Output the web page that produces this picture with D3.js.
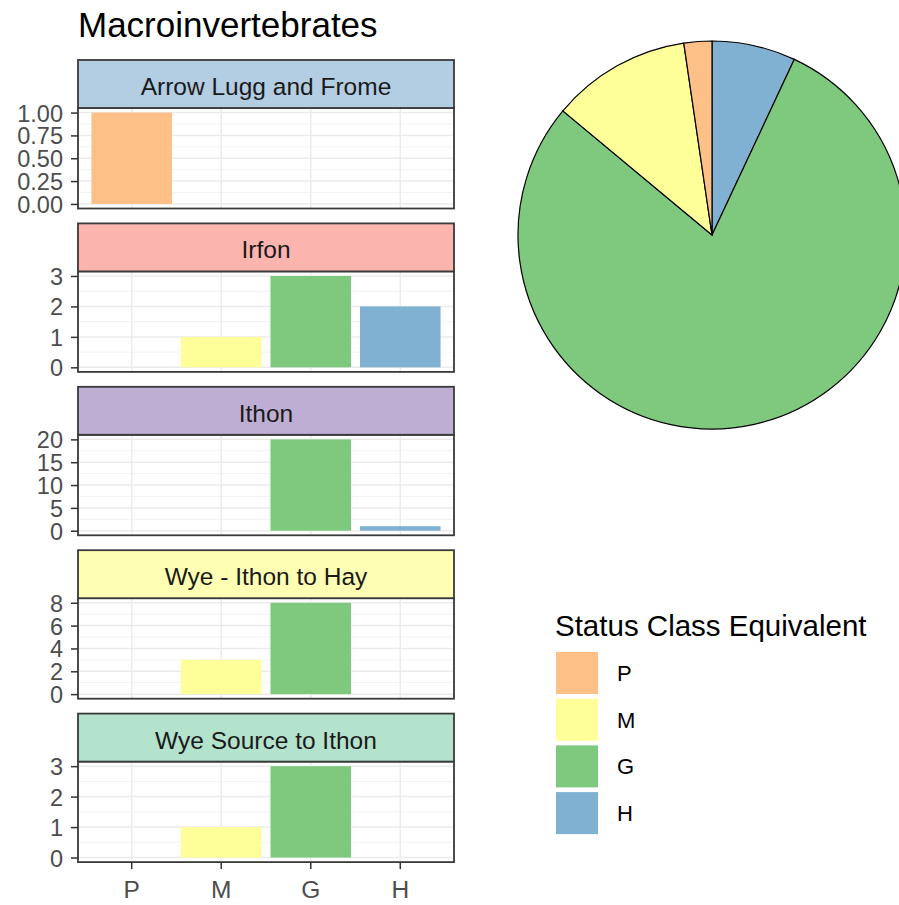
<!DOCTYPE html>
<html>
<head>
<script src="https://d3js.org/d3.v7.min.js"></script>
<style>
  body { margin: 0; background: #fff; }
  text { font-family: "Liberation Sans", Arial, sans-serif; }
</style>
</head>
<body>
<svg id="chart" width="899" height="905"></svg>
<script>
// status classes and their colours
var classes = ["P", "M", "G", "H"];
var classColors = ["#FDC086", "#FFFF99", "#7FC97F", "#80B1D3"];

// sites (facets) and their strip colours
var sites = ["Arrow Lugg and Frome", "Irfon", "Ithon", "Wye - Ithon to Hay", "Wye Source to Ithon"];
var stripColors = ["#B3CDE3", "#FBB4AE", "#BEAED4", "#FFFFB3", "#B3E2CD"];

// counts per class (P, M, G, H) for each site
var arrowCounts = [1, 0, 0, 0];
var irfonCounts = [0, 1, 3, 2];
var ithonCounts = [0, 0, 20, 1];
var wyeHayCounts = [0, 3, 8, 0];
var wyeSourceCounts = [0, 1, 3, 0];
var siteCounts = [arrowCounts, irfonCounts, ithonCounts, wyeHayCounts, wyeSourceCounts];

// y tick labels per facet
var yTicks = [
  [0, 0.25, 0.5, 0.75, 1],
  [0, 1, 2, 3],
  [0, 5, 10, 15, 20],
  [0, 2, 4, 6, 8],
  [0, 1, 2, 3]
];

var svg = d3.select("#chart");
var color = d3.scaleOrdinal().domain(classes).range(classColors);

// title
svg.append("text").attr("x", 78).attr("y", 37)
  .attr("font-size", 35).attr("fill", "#000").text("Macroinvertebrates");

var left = 78, right = 454, top0 = 60, pitch = 163.4, stripH = 48, panelH = 100.5;

var x = d3.scaleBand().domain(classes).range([left, right])
  .paddingInner(0.1).paddingOuter(0.15);

sites.forEach(function(site, i) {
  var st = top0 + i * pitch;
  var pt = st + stripH, pb = pt + panelH;
  var counts = siteCounts[i];
  var ymax = d3.max(counts);
  var y = d3.scaleLinear().domain([-0.05 * ymax, 1.05 * ymax]).range([pb, pt]);
  var ticks = yTicks[i];
  var g = svg.append("g");

  // minor grid
  var minors = d3.pairs(ticks).map(function(p) { return (p[0] + p[1]) / 2; });
  g.selectAll(".minor").data(minors).join("line")
    .attr("x1", left).attr("x2", right)
    .attr("y1", function(d) { return y(d); }).attr("y2", function(d) { return y(d); })
    .attr("stroke", "#F2F2F2").attr("stroke-width", 1);
  // major grid
  g.selectAll(".major").data(ticks).join("line")
    .attr("x1", left).attr("x2", right)
    .attr("y1", function(d) { return y(d); }).attr("y2", function(d) { return y(d); })
    .attr("stroke", "#EBEBEB").attr("stroke-width", 1.5);
  g.selectAll(".vgrid").data(classes).join("line")
    .attr("x1", function(d) { return x(d) + x.bandwidth() / 2; })
    .attr("x2", function(d) { return x(d) + x.bandwidth() / 2; })
    .attr("y1", pt).attr("y2", pb)
    .attr("stroke", "#EBEBEB").attr("stroke-width", 1.5);

  // bars
  var rows = classes.map(function(c, k) { return { cls: c, n: counts[k] }; })
    .filter(function(d) { return d.n > 0; });
  g.selectAll(".bar").data(rows).join("rect")
    .attr("x", function(d) { return x(d.cls); })
    .attr("width", x.bandwidth())
    .attr("y", function(d) { return y(d.n); })
    .attr("height", function(d) { return y(0) - y(d.n); })
    .attr("fill", function(d) { return color(d.cls); });

  // panel border
  g.append("rect").attr("x", left).attr("y", pt).attr("width", right - left).attr("height", panelH)
    .attr("fill", "none").attr("stroke", "#3a3a3a").attr("stroke-width", 1.8);

  // strip
  g.append("rect").attr("x", left).attr("y", st).attr("width", right - left).attr("height", stripH)
    .attr("fill", stripColors[i]).attr("stroke", "#3a3a3a").attr("stroke-width", 1.8);
  g.append("text").attr("x", (left + right) / 2).attr("y", st + 35)
    .attr("text-anchor", "middle").attr("font-size", 24.5).attr("fill", "#1A1A1A").text(site);

  // y axis
  var fmt = i === 0 ? d3.format(".2f") : d3.format("d");
  var yAxis = d3.axisLeft(y).tickValues(ticks).tickSize(7).tickPadding(8).tickFormat(fmt);
  var ya = g.append("g").attr("transform", "translate(" + left + ",0)").call(yAxis);
  ya.select(".domain").remove();
  ya.selectAll(".tick line").attr("stroke", "#333").attr("stroke-width", 1.5);
  ya.selectAll(".tick text").attr("font-size", 23.5).attr("fill", "#4D4D4D")
    .attr("font-family", "Liberation Sans, Arial, sans-serif").attr("dy", "0.36em");

  // x axis on the last facet
  if (i === sites.length - 1) {
    var xAxis = d3.axisBottom(x).tickSize(7).tickPadding(12);
    var xa = g.append("g").attr("transform", "translate(0," + pb + ")").call(xAxis);
    xa.select(".domain").remove();
    xa.selectAll(".tick line").attr("stroke", "#333").attr("stroke-width", 1.5);
    xa.selectAll(".tick text").attr("font-size", 24.5).attr("fill", "#4D4D4D")
      .attr("font-family", "Liberation Sans, Arial, sans-serif");
  }
});

// pie of totals over all sites, clockwise from top: H, G, M, P
var totals = classes.map(function(c, k) {
  return { cls: c, n: d3.sum(siteCounts, function(s) { return s[k]; }) };
});
var pieOrder = ["H", "G", "M", "P"];
var pieData = pieOrder.map(function(c) { return totals.find(function(t) { return t.cls === c; }); });
var pie = d3.pie().sort(null).value(function(d) { return d.n; });
var arc = d3.arc().innerRadius(0).outerRadius(194);
svg.append("g").attr("transform", "translate(712,235)")
  .selectAll("path").data(pie(pieData)).join("path")
  .attr("d", arc)
  .attr("fill", function(d) { return color(d.data.cls); })
  .attr("stroke", "#000").attr("stroke-width", 1.2);

// legend
var lg = svg.append("g");
lg.append("text").attr("x", 555).attr("y", 636).attr("font-size", 29.5).attr("fill", "#000")
  .text("Status Class Equivalent");
var keys = lg.selectAll(".key").data(classes).join("g")
  .attr("transform", function(d, k) { return "translate(556," + (652 + k * 46.7) + ")"; });
keys.append("rect").attr("width", 42).attr("height", 42)
  .attr("fill", function(d) { return color(d); });
keys.append("text").attr("x", 61).attr("y", 21).attr("dy", "0.36em")
  .attr("font-size", 22).attr("fill", "#000").text(function(d) { return d; });
</script>
</body>
</html>
